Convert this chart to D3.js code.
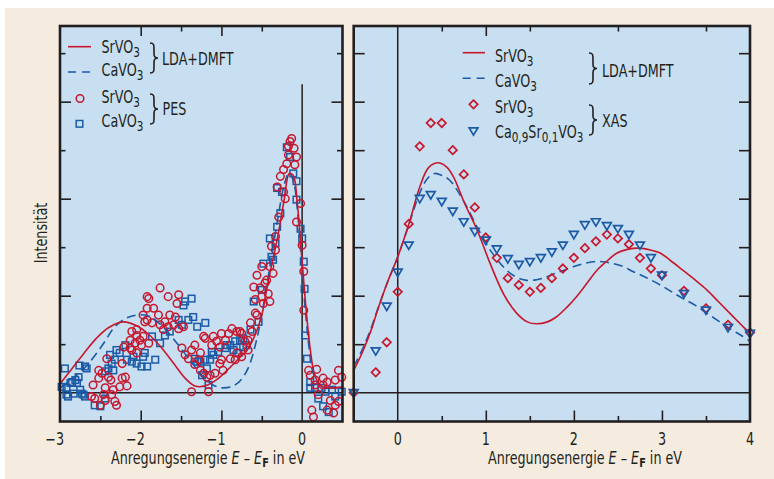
<!DOCTYPE html>
<html>
<head>
<meta charset="utf-8">
<script src="https://cdn.jsdelivr.net/npm/d3@7"></script>
<style>
  body { margin: 0; background: #ffffff; }
  svg { display: block; }
</style>
</head>
<body>
<script>

// ---- data ----

// LDA+DMFT spectra, left panel (photoemission side)
var dmftSrLeft = [[-3.0,0.09],[-2.85,0.25],[-2.7,0.41],[-2.55,0.56],[-2.4,0.67],[-2.22,0.73],[-2.05,0.69],
  [-1.9,0.6],[-1.75,0.47],[-1.6,0.31],[-1.45,0.15],[-1.33,0.07],[-1.2,0.07],[-1.05,0.14],[-0.93,0.23],
  [-0.8,0.34],[-0.69,0.43],[-0.58,0.6],[-0.5,0.8],[-0.42,1.15],[-0.3,1.62],[-0.22,2.0],[-0.16,2.26],
  [-0.11,2.24],[-0.06,1.95],[0.0,1.35],[0.05,0.85],[0.1,0.45],[0.15,0.2],[0.22,0.08],[0.32,0.05],[0.5,0.06]];

var dmftCaLeft = [[-3.0,0.05],[-2.85,0.14],[-2.7,0.25],[-2.58,0.37],[-2.45,0.52],[-2.34,0.66],[-2.2,0.76],
  [-2.05,0.8],[-1.9,0.79],[-1.75,0.7],[-1.6,0.56],[-1.45,0.4],[-1.33,0.27],[-1.2,0.14],[-1.08,0.07],
  [-0.98,0.05],[-0.85,0.07],[-0.75,0.14],[-0.66,0.27],[-0.56,0.56],[-0.48,0.9],[-0.4,1.3],[-0.3,1.8],
  [-0.22,2.15],[-0.16,2.27],[-0.1,2.15],[-0.05,1.8],[0.0,1.25],[0.05,0.75],[0.1,0.38],[0.16,0.15],
  [0.25,0.06],[0.5,0.05]];

// PES SrVO3 (circles)
var pesSr = [[-2.61,-0.04],[-2.59,0.08],[-2.57,-0.06],[-2.52,0.23],[-2.52,0.15],[-2.50,-0.13],[-2.48,0.20],
  [-2.46,-0.02],[-2.44,0.05],[-2.44,-0.08],[-2.42,0.35],[-2.40,0.16],[-2.37,0.13],[-2.36,-0.02],[-2.34,0.03],
  [-2.32,-0.09],[-2.30,-0.13],[-2.26,0.06],[-2.23,0.15],[-2.19,0.16],[-2.17,0.07],[-2.23,0.30],[-2.21,0.47],
  [-2.13,0.46],[-2.13,0.54],[-2.11,0.63],[-2.11,0.44],[-2.07,0.51],[-2.05,0.59],[-2.05,0.41],[-2.05,0.65],
  [-2.01,0.54],[-1.99,0.49],[-1.97,0.80],[-1.97,0.58],[-1.95,0.73],[-1.92,0.87],[-1.92,0.99],[-1.92,0.75],
  [-1.90,0.97],[-1.90,0.51],[-1.86,0.72],[-1.84,0.87],[-1.78,0.80],[-1.76,1.08],[-1.76,0.70],[-1.72,0.65],
  [-1.70,0.73],[-1.66,0.99],[-1.66,0.68],[-1.64,0.80],[-1.59,0.70],[-1.57,0.78],[-1.55,0.92],[-1.53,1.01],
  [-1.53,0.66],[-1.47,0.68],[-1.49,0.46],[-1.45,0.39],[-1.41,0.35],[-1.37,0.44],[-1.37,0.01],[-1.33,0.49],
  [-1.33,0.29],[-1.28,0.34],[-1.26,0.41],[-1.26,0.23],[-1.22,0.58],[-1.22,0.20],[-1.20,0.56],[-1.18,0.16],
  [-1.16,0.01],[-1.14,0.18],[-1.12,0.49],[-1.10,0.58],[-1.08,0.20],[-1.06,0.53],[-1.02,0.47],[-1.02,0.30],
  [-1.00,0.61],[-1.00,0.34],[-0.98,0.23],[-0.95,0.54],[-0.91,0.61],[-0.89,0.35],[-0.87,0.66],[-0.81,0.63],
  [-0.81,0.41],[-0.83,0.34],[-0.77,0.63],[-0.75,0.61],[-0.75,0.37],[-0.71,0.53],[-0.67,0.54],[-0.67,0.44],
  [-0.64,0.72],[-0.62,0.63],[-0.58,0.82],[-0.58,0.96],[-0.56,0.80],[-0.60,1.09],[-0.56,1.21],[-0.52,1.08],
  [-0.50,0.99],[-0.50,1.30],[-0.48,0.92],[-0.46,1.13],[-0.44,1.16],[-0.42,1.02],[-0.40,0.94],[-0.40,1.30],
  [-0.36,1.23],[-0.38,1.51],[-0.33,1.47],[-0.33,1.61],[-0.29,1.81],[-0.31,2.12],[-0.27,2.23],[-0.23,2.07],
  [-0.23,2.30],[-0.21,2.00],[-0.19,2.36],[-0.17,2.45],[-0.17,2.54],[-0.15,2.59],[-0.13,2.62],[-0.10,2.52],
  [-0.09,2.35],[-0.07,2.43],[-0.07,1.76],[-0.02,1.95],[0.00,1.52],[0.02,1.25],[0.02,0.85],[0.08,0.23],
  [0.10,0.18],[0.16,0.13],[0.16,0.08],[0.18,0.24],[0.20,-0.02],[0.26,0.15],[0.26,0.08],[0.31,0.11],
  [0.35,-0.08],[0.41,0.13],[0.41,-0.13],[0.45,0.23],[0.45,-0.09],[0.49,0.16],[0.31,-0.18],[0.39,-0.21],
  [0.12,-0.18],[0.14,-0.25]];

// PES CaVO3 (squares)
var pesCa = [[-2.98,0.06],[-2.94,0.25],[-2.92,0.05],[-2.92,-0.02],[-2.90,-0.04],[-2.87,0.10],[-2.85,0.11],
  [-2.83,-0.01],[-2.81,0.13],[-2.79,0.10],[-2.77,0.16],[-2.76,0.28],[-2.75,0.03],[-2.73,-0.01],[-2.71,-0.02],
  [-2.69,-0.04],[-2.69,0.27],[-2.67,0.25],[-2.57,-0.13],[-2.50,-0.14],[-2.44,-0.06],[-2.44,0.22],[-2.40,0.25],
  [-2.38,0.39],[-2.36,0.30],[-2.34,0.23],[-2.32,0.34],[-2.30,0.44],[-2.26,0.41],[-2.19,0.49],[-2.17,0.34],
  [-2.11,0.32],[-2.09,0.37],[-2.05,0.30],[-1.99,0.27],[-1.97,0.37],[-1.95,0.41],[-1.92,0.27],[-1.86,0.58],
  [-1.82,0.34],[-1.76,0.51],[-1.70,0.59],[-1.64,0.63],[-1.53,0.75],[-1.49,0.70],[-1.47,0.90],[-1.45,0.94],
  [-1.41,0.75],[-1.37,0.97],[-1.35,0.78],[-1.30,0.68],[-1.20,0.72],[-1.33,0.35],[-1.30,0.32],[-1.26,0.32],
  [-1.20,0.34],[-1.24,0.18],[-1.18,0.25],[-1.16,0.08],[-1.14,0.34],[-1.12,0.42],[-1.10,0.39],[-1.04,0.42],
  [-0.95,0.46],[-0.93,0.49],[-0.89,0.49],[-0.85,0.44],[-0.83,0.53],[-0.79,0.41],[-0.77,0.54],[-0.73,0.56],
  [-0.73,0.47],[-0.69,0.49],[-0.64,0.65],[-0.60,0.94],[-0.54,0.73],[-0.50,1.06],[-0.48,1.33],[-0.40,1.59],
  [-0.38,1.40],[-0.36,1.37],[-0.33,1.54],[-0.31,1.71],[-0.27,1.85],[-0.31,2.11],[-0.25,2.07],[-0.19,2.53],
  [-0.15,2.43],[-0.11,2.26],[-0.07,2.18],[-0.07,1.99],[-0.02,1.69],[0.00,1.59],[0.02,1.35],[0.03,1.07],
  [0.04,0.59],[0.06,0.35],[0.10,0.11],[0.10,0.05],[0.16,0.05],[0.20,-0.06],[0.24,0.05],[0.26,-0.14],
  [0.29,0.01],[0.33,-0.20],[0.37,0.03],[0.41,-0.04],[0.49,0.01]];

// LDA+DMFT spectra, right panel (absorption side)
var dmftSrRight = [[-0.5,0.23],[-0.4,0.42],[-0.3,0.65],[-0.24,0.82],[-0.12,1.13],[0.0,1.40],[0.13,1.75],
  [0.25,2.12],[0.35,2.32],[0.46,2.37],[0.55,2.33],[0.63,2.23],[0.76,1.95],[0.9,1.68],[1.05,1.33],[1.2,1.02],
  [1.35,0.82],[1.47,0.73],[1.58,0.71],[1.7,0.73],[1.8,0.78],[1.92,0.88],[2.03,0.99],[2.15,1.13],[2.26,1.26],
  [2.38,1.36],[2.49,1.44],[2.62,1.48],[2.75,1.49],[2.87,1.47],[2.98,1.44],[3.1,1.36],[3.24,1.26],[3.38,1.16],
  [3.51,1.06],[3.64,0.94],[3.77,0.82],[3.9,0.7],[4.0,0.61]];

var dmftCaRight = [[-0.5,0.27],[-0.4,0.45],[-0.3,0.67],[-0.24,0.83],[-0.12,1.13],[0.0,1.40],[0.13,1.74],
  [0.25,2.06],[0.34,2.21],[0.42,2.26],[0.5,2.24],[0.59,2.19],[0.74,1.99],[0.9,1.71],[1.05,1.47],[1.24,1.26],
  [1.35,1.19],[1.45,1.16],[1.55,1.16],[1.65,1.18],[1.76,1.22],[1.88,1.26],[2.0,1.3],[2.11,1.33],[2.22,1.35],
  [2.33,1.35],[2.45,1.33],[2.56,1.3],[2.67,1.25],[2.79,1.2],[2.9,1.15],[3.02,1.09],[3.13,1.03],[3.24,0.97],
  [3.38,0.9],[3.51,0.82],[3.64,0.74],[3.77,0.66],[3.9,0.59],[4.0,0.53]];

// XAS SrVO3 (diamonds)
var xasSr = [[-0.5,0.0],[-0.25,0.21],[-0.125,0.52],[0,1.04],[0.125,1.74],[0.25,2.54],[0.375,2.78],[0.5,2.78],
  [0.625,2.5],[0.75,2.25],[0.875,1.91],[1.0,1.6],[1.125,1.39],[1.25,1.18],[1.375,1.11],[1.5,1.04],
  [1.625,1.08],[1.75,1.18],[1.875,1.28],[2.0,1.39],[2.125,1.49],[2.25,1.56],[2.375,1.63],[2.5,1.59],
  [2.625,1.53],[2.75,1.39],[2.875,1.28],[3.0,1.21],[3.25,1.05],[3.5,0.87],[3.75,0.7],[4.0,0.62]];

// XAS Ca0.9Sr0.1VO3 (triangles)
var xasCa = [[-0.5,0.0],[-0.25,0.43],[-0.125,0.89],[0,1.24],[0.125,1.52],[0.25,2.0],[0.375,2.04],[0.5,1.97],
  [0.625,1.87],[0.75,1.76],[0.875,1.66],[1.0,1.57],[1.125,1.48],[1.25,1.38],[1.375,1.32],[1.5,1.35],
  [1.625,1.39],[1.75,1.45],[1.875,1.52],[2.0,1.63],[2.125,1.73],[2.25,1.76],[2.375,1.72],[2.5,1.69],
  [2.625,1.63],[2.75,1.52],[2.875,1.39],[3.0,1.21],[3.25,1.02],[3.5,0.85],[3.75,0.67],[4.0,0.61]];

// ticks
var leftXLabels = [-3, -2, -1, 0];
var leftXMajor = [-2, -1];
var leftXMinor = [-2.5, -1.5, -0.5];
var leftTopMajor = [-2, -1];
var leftTopMinor = [-1.5, -0.5];
var rightXLabels = [0, 1, 2, 3, 4];
var rightXMajor = [1, 2, 3];
var rightXMinor = [0.5, 1.5, 2.5, 3.5];
var rightTopMajor = [1];
var rightTopMinor = [0.5, 1.5, 2.5, 3.5];
var yMajor = [1, 2, 3];
var yMinor = [0.5, 1.5, 2.5, 3.5];
var yAll = [0.5, 1, 1.5, 2, 2.5, 3, 3.5];

// ---- layout ----
var W = 774, H = 479;
var FONT = "'Liberation Sans Narrow', 'DejaVu Sans Condensed', 'Liberation Sans', sans-serif";
var FS = 17;
var RED = "#c8172d", BLUE = "#1b5aa6", INK = "#231f20";
var PANEL = "#c8dff1", BEIGE = "#f5ecdf";

var top_y = 26, bot_y = 421.5;
var left_panel = {x0: 60, x1: 342.5};
var right_panel = {x0: 353.7, x1: 750};

var y = d3.scaleLinear().domain([-0.297, 3.78]).range([bot_y, top_y]);
var xL = d3.scaleLinear().domain([-3, 0.5]).range([left_panel.x0, left_panel.x1]);
var xR = d3.scaleLinear().domain([-0.5, 4]).range([right_panel.x0, right_panel.x1]);

var svg = d3.select("body").append("svg")
  .attr("width", W)
  .attr("height", H)
  .style("font-family", FONT);

// the original typeface is a condensed one: measure ours and squeeze to the
// width of the axis title in the reference (~195px)
var probe = svg.append("text").attr("font-size", FS)
  .text("Anregungsenergie E \u2013 EF in eV");
var SQUEEZE = Math.min(1, 195 / probe.node().getComputedTextLength());
probe.text("0");
var DIGIT_W = probe.node().getComputedTextLength() * SQUEEZE;
probe.remove();

function make_text(x, yb, size, anchor, rotate) {
  var g = svg.append("g")
    .attr("transform", "translate(" + x + "," + yb + ")" +
      (rotate ? " rotate(" + rotate + ")" : "") + " scale(" + SQUEEZE + ",1)");
  return g.append("text")
    .attr("font-size", size)
    .attr("text-anchor", anchor || "start")
    .attr("fill", INK);
}

svg.append("rect")
  .attr("x", 5).attr("y", 8)
  .attr("width", W - 5).attr("height", H - 8)
  .attr("fill", BEIGE);

function panel_bg(p) {
  svg.append("rect")
    .attr("x", p.x0).attr("y", top_y)
    .attr("width", p.x1 - p.x0).attr("height", bot_y - top_y)
    .attr("fill", PANEL);
}
panel_bg(left_panel);
panel_bg(right_panel);

// tick helper: d3 axes with inward ticks, no domain line
function ticks(axisFn, scale, values, len, transform) {
  var g = svg.append("g")
    .attr("transform", transform)
    .call(axisFn(scale).tickValues(values).tickSize(-len).tickFormat(""));
  g.select(".domain").remove();
  g.selectAll("line").attr("stroke", INK).attr("stroke-width", 1.6);
  return g;
}

// left panel ticks
ticks(d3.axisBottom, xL, leftXMajor, 11, "translate(0," + bot_y + ")");
ticks(d3.axisBottom, xL, leftXMinor, 5.5, "translate(0," + bot_y + ")");
ticks(d3.axisTop, xL, leftTopMajor, 10, "translate(0," + top_y + ")");
ticks(d3.axisTop, xL, leftTopMinor, 5.5, "translate(0," + top_y + ")");
ticks(d3.axisLeft, y, yMajor, 11, "translate(" + left_panel.x0 + ",0)");
ticks(d3.axisLeft, y, yMinor, 5.5, "translate(" + left_panel.x0 + ",0)");
ticks(d3.axisRight, y, yMajor, 11, "translate(" + left_panel.x1 + ",0)");
ticks(d3.axisRight, y, yMinor, 5.5, "translate(" + left_panel.x1 + ",0)");

// right panel ticks
ticks(d3.axisBottom, xR, rightXMajor, 11, "translate(0," + bot_y + ")");
ticks(d3.axisBottom, xR, rightXMinor, 5.5, "translate(0," + bot_y + ")");
ticks(d3.axisTop, xR, rightTopMajor, 10, "translate(0," + top_y + ")");
ticks(d3.axisTop, xR, rightTopMinor, 5.5, "translate(0," + top_y + ")");
ticks(d3.axisLeft, y, yAll, 11, "translate(" + right_panel.x0 + ",0)");
ticks(d3.axisRight, y, yAll, 11, "translate(" + right_panel.x1 + ",0)");

// zero lines
svg.append("line")
  .attr("x1", xL(0)).attr("x2", xL(0))
  .attr("y1", y(3.18)).attr("y2", bot_y)
  .attr("stroke", INK).attr("stroke-width", 1.5);
svg.append("line")
  .attr("x1", xR(0)).attr("x2", xR(0))
  .attr("y1", top_y).attr("y2", bot_y)
  .attr("stroke", INK).attr("stroke-width", 1.5);
svg.append("line")
  .attr("x1", left_panel.x0).attr("x2", left_panel.x1)
  .attr("y1", y(0)).attr("y2", y(0))
  .attr("stroke", INK).attr("stroke-width", 1.5);
svg.append("line")
  .attr("x1", right_panel.x0).attr("x2", right_panel.x1)
  .attr("y1", y(0)).attr("y2", y(0))
  .attr("stroke", INK).attr("stroke-width", 1.5);

// ---- marks ----
function draw_line(data, xs, colour, dashed) {
  var line = d3.line()
    .x(function(d) { return xs(d[0]); })
    .y(function(d) { return y(d[1]); })
    .curve(d3.curveCatmullRom.alpha(0.5));
  svg.append("path")
    .datum(data)
    .attr("fill", "none")
    .attr("stroke", colour)
    .attr("stroke-width", 1.6)
    .attr("stroke-dasharray", dashed ? "9,5" : null)
    .attr("d", line);
}

var diamond = "M0,-4.2L4.2,0L0,4.2L-4.2,0Z";
var triangle = "M-4.4,-3.2L4.4,-3.2L0,4.2Z";

svg.append("g").selectAll("rect")
  .data(pesCa)
  .enter().append("rect")
  .attr("x", function(d) { return xL(d[0]) - 3.3; })
  .attr("y", function(d) { return y(d[1]) - 3.3; })
  .attr("width", 6.6).attr("height", 6.6)
  .attr("fill", "none")
  .attr("stroke", BLUE).attr("stroke-width", 1.5);

svg.append("g").selectAll("circle")
  .data(pesSr)
  .enter().append("circle")
  .attr("cx", function(d) { return xL(d[0]); })
  .attr("cy", function(d) { return y(d[1]); })
  .attr("r", 3.8)
  .attr("fill", "none")
  .attr("stroke", RED).attr("stroke-width", 1.5);

draw_line(dmftCaLeft, xL, BLUE, true);
draw_line(dmftSrLeft, xL, RED, false);

draw_line(dmftCaRight, xR, BLUE, true);
draw_line(dmftSrRight, xR, RED, false);

svg.append("g").selectAll("path")
  .data(xasSr)
  .enter().append("path")
  .attr("d", diamond)
  .attr("transform", function(d) { return "translate(" + xR(d[0]) + "," + y(d[1]) + ")"; })
  .attr("fill", "none")
  .attr("stroke", RED).attr("stroke-width", 1.7);

svg.append("g").selectAll("path")
  .data(xasCa)
  .enter().append("path")
  .attr("d", triangle)
  .attr("transform", function(d) { return "translate(" + xR(d[0]) + "," + y(d[1]) + ")"; })
  .attr("fill", "none")
  .attr("stroke", BLUE).attr("stroke-width", 1.7);

// frames on top
[left_panel, right_panel].forEach(function(p) {
  svg.append("rect")
    .attr("x", p.x0).attr("y", top_y)
    .attr("width", p.x1 - p.x0).attr("height", bot_y - top_y)
    .attr("fill", "none")
    .attr("stroke", INK).attr("stroke-width", 2.6);
});

// ---- tick labels ----
// digits sit centred on the tick, the minus sign hangs to the left
function labels(xs, values) {
  values.forEach(function(d) {
    make_text(xs(d) + DIGIT_W / 2, 444.5, FS, "end")
      .text(d < 0 ? "\u2212" + Math.abs(d) : d);
  });
}
labels(xL, leftXLabels);
labels(xR, rightXLabels);

// axis titles
function x_title(cx) {
  var t = make_text(cx, 463.5, FS, "middle");
  t.append("tspan").text("Anregungsenergie ");
  t.append("tspan").attr("font-style", "italic").text("E");
  t.append("tspan").text(" \u2013 ");
  t.append("tspan").attr("font-style", "italic").text("E");
  t.append("tspan").attr("dy", 3).attr("font-size", 13).attr("font-weight", "bold").text("F");
  t.append("tspan").attr("dy", -3).text(" in eV");
}
x_title(208);
x_title(585);

make_text(47, 233, FS, "middle", -90).text("Intensität");

// ---- legends ----
function legend_text(x, yb, parts) {
  var t = make_text(x, yb, FS, "start");
  var shifted = false;
  parts.forEach(function(p) {
    var ts = t.append("tspan").text(p[0]);
    if (p[1]) {
      ts.attr("font-size", 14);
      if (!shifted) { ts.attr("dy", 4); shifted = true; }
    } else if (shifted) {
      ts.attr("dy", -4);
      shifted = false;
    }
  });
}

function brace(x, y0, y1) {
  var m = (y0 + y1) / 2;
  svg.append("path")
    .attr("d", "M" + x + "," + y0 +
      "C" + (x + 4) + "," + y0 + " " + (x + 4) + "," + (y0 + 2) + " " + (x + 4) + "," + (y0 + 6) +
      "L" + (x + 4) + "," + (m - 4) +
      "C" + (x + 4) + "," + (m - 1) + " " + (x + 5) + "," + m + " " + (x + 8) + "," + m +
      "C" + (x + 5) + "," + m + " " + (x + 4) + "," + (m + 1) + " " + (x + 4) + "," + (m + 4) +
      "L" + (x + 4) + "," + (y1 - 6) +
      "C" + (x + 4) + "," + (y1 - 2) + " " + (x + 4) + "," + y1 + " " + x + "," + y1)
    .attr("fill", "none")
    .attr("stroke", INK)
    .attr("stroke-width", 1.6);
}

function legend_line(x0, x1, yy, colour, dashed) {
  svg.append("line")
    .attr("x1", x0).attr("x2", x1)
    .attr("y1", yy).attr("y2", yy)
    .attr("stroke", colour).attr("stroke-width", 1.6)
    .attr("stroke-dasharray", dashed ? "8,6" : null);
}

// left legend
legend_line(68, 91, 46.7, RED, false);
legend_line(68, 91, 72, BLUE, true);
svg.append("circle").attr("cx", 80).attr("cy", 98.5).attr("r", 3.8)
  .attr("fill", "none").attr("stroke", RED).attr("stroke-width", 1.5);
svg.append("rect").attr("x", 76.2).attr("y", 120.5).attr("width", 6.6).attr("height", 6.6)
  .attr("fill", "none").attr("stroke", BLUE).attr("stroke-width", 1.5);
legend_text(101.5, 53, [["SrVO", false], ["3", true]]);
legend_text(101.5, 76, [["CaVO", false], ["3", true]]);
legend_text(101.5, 103, [["SrVO", false], ["3", true]]);
legend_text(101.5, 126.5, [["CaVO", false], ["3", true]]);
brace(150, 43, 73);
brace(150, 94, 124);
make_text(162, 65, FS).text("LDA+DMFT");
make_text(162.5, 115, FS).text("PES");

// right legend
legend_line(462.7, 485, 52.7, RED, false);
legend_line(462.7, 485, 78.3, BLUE, true);
svg.append("path").attr("d", diamond).attr("transform", "translate(473.5,104.3)")
  .attr("fill", "none").attr("stroke", RED).attr("stroke-width", 1.7);
svg.append("path").attr("d", triangle).attr("transform", "translate(473.5,131)")
  .attr("fill", "none").attr("stroke", BLUE).attr("stroke-width", 1.7);
legend_text(495, 61.5, [["SrVO", false], ["3", true]]);
legend_text(495, 87, [["CaVO", false], ["3", true]]);
legend_text(495, 112.5, [["SrVO", false], ["3", true]]);
legend_text(495, 138, [["Ca", false], ["0,9", true], ["Sr", false], ["0,1", true], ["VO", false], ["3", true]]);
brace(589, 53, 84);
brace(589, 105, 135);
make_text(602, 76.5, FS).text("LDA+DMFT");
make_text(602, 126.5, FS).text("XAS");

</script>
</body>
</html>
